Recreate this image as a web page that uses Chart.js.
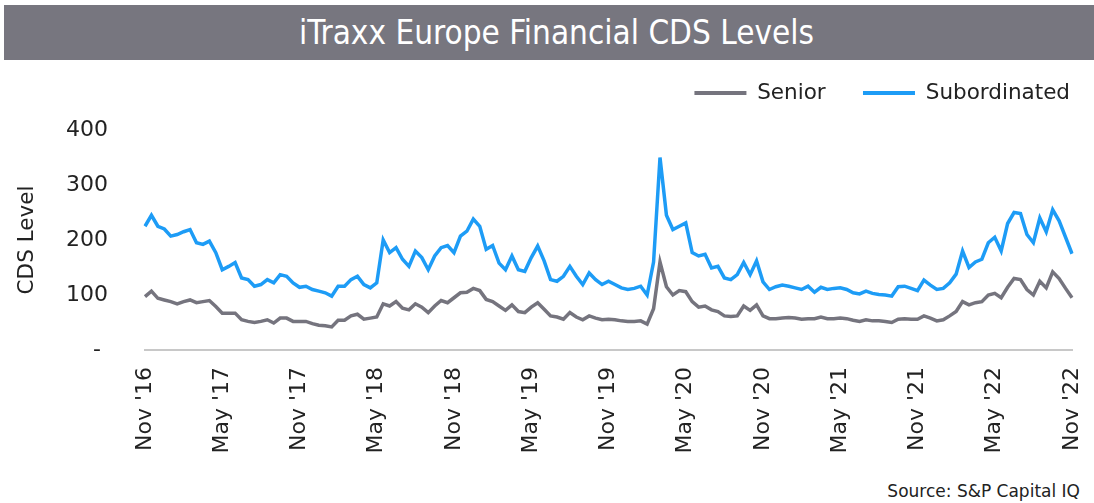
<!DOCTYPE html>
<html lang="en">
<head>
<meta charset="UTF-8" />
<title>iTraxx Europe Financial CDS Levels</title>
<script src="https://cdn.jsdelivr.net/npm/chart.js"></script>
<style>
  body {
    margin: 0;
    width: 1094px;
    height: 503px;
    background: #fff;
    position: relative;
    overflow: hidden;
    font-family: "DejaVu Sans", sans-serif;
  }
  .title-bar {
    position: absolute;
    left: 4px;
    top: 5px;
    width: 1105px;
    height: 55px;
    background: #77767f;
    color: #fff;
    font-family: "DejaVu Sans Condensed", "DejaVu Sans", sans-serif;
    font-size: 33px;
    line-height: 55px;
    text-align: center;
  }
  .chart-box {
    position: absolute;
    left: 0;
    top: 44px;
    width: 1094px;
    height: 436px;
  }
  .source {
    position: absolute;
    right: 14px;
    top: 481px;
    font-size: 17px;
    color: #222;
  }
</style>
</head>
<body>
  <div class="title-bar">iTraxx Europe Financial CDS Levels</div>
  <div class="chart-box"><canvas id="cdsChart"></canvas></div>
  <div class="source">Source: S&amp;P Capital IQ</div>

<script>
  // half-monthly readings, Nov 2016 .. Nov 2022
  var seniorValues = [
    97, 107, 94, 91, 88, 84, 88, 91, 86, 88, 90, 79, 67, 67, 67, 55, 52, 50, 52, 55, 49, 58, 58, 52, 52,
    52, 48, 45, 44, 42, 54, 54, 62, 65, 56, 58, 60, 84, 80, 88, 76, 73, 84, 78, 68, 80, 90, 86, 95,
    104, 105, 112, 108, 92, 88, 80, 72, 82, 70, 68, 78, 86, 74, 62, 60, 56, 68, 60, 55, 62, 58, 55, 56,
    55, 53, 52, 52, 53, 47, 75, 160, 115, 100, 108, 106, 88, 78, 80, 73, 70, 62, 61, 62, 80, 72, 82, 62, 57,
    57, 58, 59, 58, 56, 57, 57, 60, 57, 57, 58, 57, 54, 52, 55, 53, 53, 52, 50, 56, 57, 56, 56,
    62, 58, 53, 55, 62, 70, 88, 82, 86, 88, 100, 103, 95, 114, 130, 128, 110, 100, 125, 113, 142, 130, 112, 95
  ];

  var subordinatedValues = [
    225, 245, 225, 220, 207, 210, 215, 219, 195, 192, 198, 177, 146, 152, 159, 131, 128, 116, 119, 128, 122, 137, 134, 122, 114,
    116, 110, 107, 104, 98, 116, 116, 128, 134, 119, 113, 122, 200, 177, 186, 165, 152, 180, 168, 146, 171, 186, 190, 177,
    207, 216, 238, 225, 183, 190, 158, 146, 171, 146, 143, 168, 189, 162, 128, 125, 134, 152, 134, 119, 140, 128, 119, 125,
    119, 113, 110, 112, 116, 100, 160, 350, 245, 219, 225, 231, 177, 171, 174, 149, 152, 131, 128, 137, 159, 137, 162, 124, 110,
    115, 118, 116, 113, 110, 116, 105, 114, 110, 112, 113, 110, 104, 102, 107, 103, 101, 100, 98, 115, 116, 112, 108,
    127, 118, 110, 112, 122, 138, 180, 150, 160, 165, 195, 205, 180, 230, 250, 248, 210, 195, 240, 215, 255, 235, 205, 175
  ];

  var tickLabels = [
    "Nov '16", "May '17", "Nov '17", "May '18", "Nov '18", "May '19", "Nov '19",
    "May '20", "Nov '20", "May '21", "Nov '21", "May '22", "Nov '22"
  ];

  var monthNames = ["Jan", "Feb", "Mar", "Apr", "May", "Jun", "Jul", "Aug", "Sep", "Oct", "Nov", "Dec"];
  var categories = [];
  for (var i = 0; i < seniorValues.length; i++) {
    var m = 10 + Math.floor(i / 2);
    categories.push(monthNames[m % 12] + " " + (i % 2 ? 15 : 1) + ", " + (2016 + Math.floor(m / 12)));
  }

  var textColor = "#222";
  var baseFont = "DejaVu Sans";

  new Chart(document.getElementById("cdsChart").getContext("2d"), {
    type: "line",
    data: {
      labels: categories,
      datasets: [
        {
          label: "Senior",
          data: seniorValues,
          borderColor: "#75747e",
          borderWidth: 3.5,
          pointRadius: 0,
          tension: 0,
        },
        {
          label: "Subordinated",
          data: subordinatedValues,
          borderColor: "#1d9cf6",
          borderWidth: 3.5,
          pointRadius: 0,
          tension: 0,
        },
      ],
    },
    options: {
      responsive: true,
      maintainAspectRatio: false,
      animation: false,
      layout: { padding: { top: 10, right: 14, left: 0, bottom: 0 } },
      plugins: {
        tooltip: { enabled: false },
        legend: {
          position: "top",
          align: "end",
          weight: 3000, // keep legend above the spacer subtitle
          labels: {
            usePointStyle: true,
            pointStyle: "line",
            pointStyleWidth: 52,
            padding: 10,
            color: textColor,
            font: { family: baseFont, size: 21.5 },
            generateLabels: function (chart) {
              var items = Chart.defaults.plugins.legend.labels.generateLabels(chart);
              items.forEach(function (it, idx) {
                it.lineWidth = 4;
                it.pointStyle = "line";
                if (idx === 0) it.text = it.text + "    ";
              });
              return items;
            },
          },
        },
        // empty subtitle used as a gap between legend and plot
        subtitle: {
          display: true,
          text: "",
          font: { size: 1 },
          padding: { top: 15, bottom: 0 },
        },
      },
      scales: {
        x: {
          grid: { display: false },
          border: { display: true, color: "#c8c8c8", width: 2 },
          ticks: {
            autoSkip: false,
            minRotation: 90,
            maxRotation: 90,
            padding: 9,
            color: textColor,
            font: { family: baseFont, size: 22 },
            callback: function (val, index) {
              return index % 12 === 0 ? tickLabels[index / 12] : "";
            },
          },
          afterFit: function (scale) {
            scale.height = 130;
            scale.paddingRight = 22;
          },
        },
        y: {
          min: 0,
          max: 400,
          grid: { display: false },
          border: { display: false },
          ticks: {
            stepSize: 100,
            padding: 29,
            color: textColor,
            font: { family: baseFont, size: 22 },
            callback: function (value) {
              return value === 0 ? "- " : value;
            },
          },
          title: {
            display: true,
            text: "CDS Level",
            color: textColor,
            font: { family: baseFont, size: 21.5 },
            padding: { top: 15, bottom: 0 },
          },
          afterFit: function (scale) {
            scale.width = 145;
            scale.paddingTop = 86;
          },
        },
      },
    },
  });
</script>
</body>
</html>
